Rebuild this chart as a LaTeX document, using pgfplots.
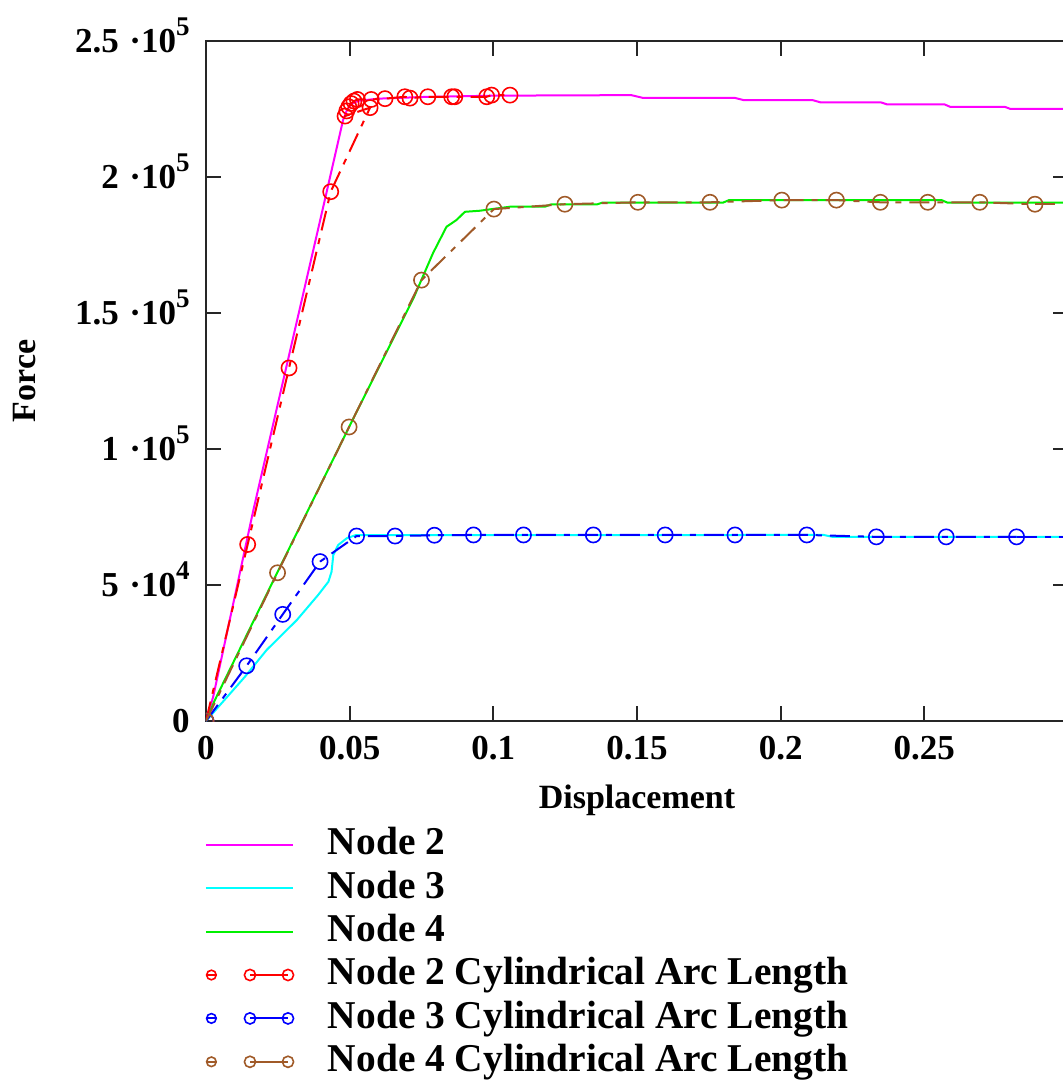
\documentclass[border=0pt]{standalone}
\usepackage{fontspec}
\setmainfont{Liberation Serif}
\usepackage{pgfplots}
\pgfplotsset{compat=1.18}

\definecolor{nodeii}{RGB}{255,0,255}
\definecolor{nodeiii}{RGB}{0,255,255}
\definecolor{nodeiv}{RGB}{0,240,0}
\definecolor{arcii}{RGB}{255,0,0}
\definecolor{arciii}{RGB}{0,0,255}
\definecolor{arciv}{RGB}{160,90,40}

% power-of-ten tick label: mantissa, exponent
\newcommand{\pten}[2]{#1\hspace{0.3em}·10\raisebox{0.48em}{\fontsize{13.5}{13.5}\selectfont #2}}

\pgfplotsset{
  solidline/.style={line width=1pt, mark=none,
    legend image code/.code={\draw[##1] (0pt,0pt) -- (43.5pt,0pt);}},
  arcline/.style={line width=1pt, mark=o, mark size=3.8pt,
    dash pattern=on 10pt off 4pt on 3pt off 4pt,
    mark options={solid, line width=0.8pt},
    legend image code/.code={
      \draw[##1, solid, mark=none] (0pt,0pt) -- (5.5pt,0pt);
      \draw[##1, solid, only marks, mark size=2.4pt] plot coordinates {(2.7pt,0pt)};
      \draw[##1, solid, mark size=2.8pt] plot coordinates {(22pt,0pt) (41pt,0pt)};
    }},
}

\begin{document}
\begin{tikzpicture}
\begin{axis}[
  name=ax, at={(0,0)}, anchor=south west,
  scale only axis, width=431pt, height=340pt,
  xmin=0, xmax=0.3, ymin=0, ymax=250000,
  clip marker paths=true,
  xtick={0,0.05,0.1,0.15,0.2,0.25},
  xticklabels={0,0.05,0.1,0.15,0.2,0.25},
  ytick={0,50000,100000,150000,200000,250000},
  yticklabels={0, \pten{5}{4}, \pten{1}{5}, \pten{1.5}{5}, \pten{2}{5}, \pten{2.5}{5}},
  scaled ticks=false,
  tick align=inside, major tick length=7.5pt,
  axis line style={line width=1pt, black!85},
  every tick/.style={line width=1pt, black!85},
  ticklabel style={font=\fontsize{17.5}{20}\selectfont\bfseries},
  xticklabel style={anchor=center, inner sep=0pt, yshift=-13.5pt},
  yticklabel style={anchor=base east, inner sep=0pt, xshift=-8pt, yshift=-5.8pt},
  xlabel={Displacement}, ylabel={Force},
  label style={font=\fontsize{17}{20}\selectfont\bfseries},
  xlabel style={at={(axis description cs:0.5,-0.1162)}, anchor=center},
  ylabel style={at={(axis description cs:-0.21,0.5)}, anchor=center},
  legend cell align=left,
  legend style={at={(axis description cs:0,0)}, anchor=north west,
    xshift=-0.5pt, yshift=-53pt, draw=none, fill=none,
    inner sep=0pt, outer sep=0pt, row sep=3.9pt, column sep=17pt,
    font=\fontsize{19.7}{22}\selectfont\bfseries,
    nodes={inner sep=0pt, text height=13.8pt, text depth=4pt}},
]

% Node 2, plain Newton-Raphson path
\addplot[solidline, color=nodeii] coordinates {
  (0,0) (0.0025,8900) (0.0165,77600) (0.0408,189000) (0.0477,220900)
  (0.0490,224500) (0.0505,226800) (0.0530,228000) (0.0600,228800)
  (0.0750,229400) (0.1000,229900) (0.148,230100) (0.152,229100)
  (0.184,229100) (0.187,228300) (0.211,228300) (0.214,227400)
  (0.235,227400) (0.237,226700) (0.257,226700) (0.259,225800)
  (0.278,225800) (0.280,225000) (0.3,225000)
};
\addlegendentry{Node 2}

% Node 3
\addplot[solidline, color=nodeiii] coordinates {
  (0,0) (0.0049,5900) (0.01357,16300) (0.0211,26100) (0.0316,37100)
  (0.0390,46300) (0.0426,51200) (0.0437,54900) (0.0443,61000)
  (0.0460,64700) (0.0490,67200) (0.0520,68300) (0.215,68400)
  (0.218,67700) (0.3,67700)
};
\addlegendentry{Node 3}

% Node 4
\addplot[solidline, color=nodeiv] coordinates {
  (0,0) (0.003,7500) (0.025,55000) (0.05,108500) (0.0722,155400)
  (0.0790,172000) (0.0837,181700) (0.0872,184200) (0.0901,187200)
  (0.0953,187600) (0.0988,188100) (0.106,189100) (0.118,189100)
  (0.120,189900) (0.136,189900) (0.138,190600) (0.180,190600)
  (0.182,191500) (0.256,191500) (0.258,190600) (0.3,190600)
};
\addlegendentry{Node 4}

% Node 2, cylindrical arc length steps
\addplot[arcline, color=arcii] coordinates {
  (0,0) (0.0145,64900) (0.0289,129800) (0.0434,194600) (0.0571,225500)
  (0.0484,222400) (0.0490,224300) (0.0497,225800) (0.0505,227000)
  (0.0515,227900) (0.0527,228500) (0.0575,228500)
  (0.0623,228800) (0.0692,229500) (0.0710,229000) (0.0772,229500)
  (0.0855,229500) (0.0866,229500) (0.0977,229500) (0.0994,230100)
  (0.1058,230100)
};
\addlegendentry{Node 2 Cylindrical Arc Length}

% Node 3, cylindrical arc length steps
\addplot[arcline, color=arciii] coordinates {
  (0,0) (0.01416,20300) (0.0267,39200) (0.0397,58600) (0.0524,68000)
  (0.0658,68000) (0.0795,68300) (0.0931,68400) (0.1105,68400)
  (0.1348,68400) (0.1598,68400) (0.1841,68400) (0.2091,68400)
  (0.2333,67700) (0.2576,67700) (0.2821,67700)
};
\addlegendentry{Node 3 Cylindrical Arc Length}

% Node 4, cylindrical arc length steps
\addplot[arcline, color=arciv] coordinates {
  (0,0) (0.0249,54500) (0.0498,108100) (0.0750,162100) (0.1002,188200)
  (0.1249,190000) (0.1503,190700) (0.1754,190700) (0.2004,191500)
  (0.2194,191500) (0.2347,190700) (0.2512,190700) (0.2693,190700)
  (0.2885,190000)
};
\addlegendentry{Node 4 Cylindrical Arc Length}

% continuation of the last two step series to the axis edge
\addplot[forget plot, color=arciii, line width=1pt, mark=none,
  dash pattern=on 10pt off 4pt on 3pt off 4pt] coordinates {(0.2821,67700) (0.3,67700)};
\addplot[forget plot, color=arciv, line width=1pt, mark=none,
  dash pattern=on 10pt off 4pt on 3pt off 4pt] coordinates {(0.2885,190000) (0.3,190000)};
\end{axis}
\pgfresetboundingbox
\path[use as bounding box] ([shift={(-103pt,-179.5pt)}]ax.south west)
  rectangle ([shift={(428.5pt,360.5pt)}]ax.south west);
\end{tikzpicture}
\end{document}
